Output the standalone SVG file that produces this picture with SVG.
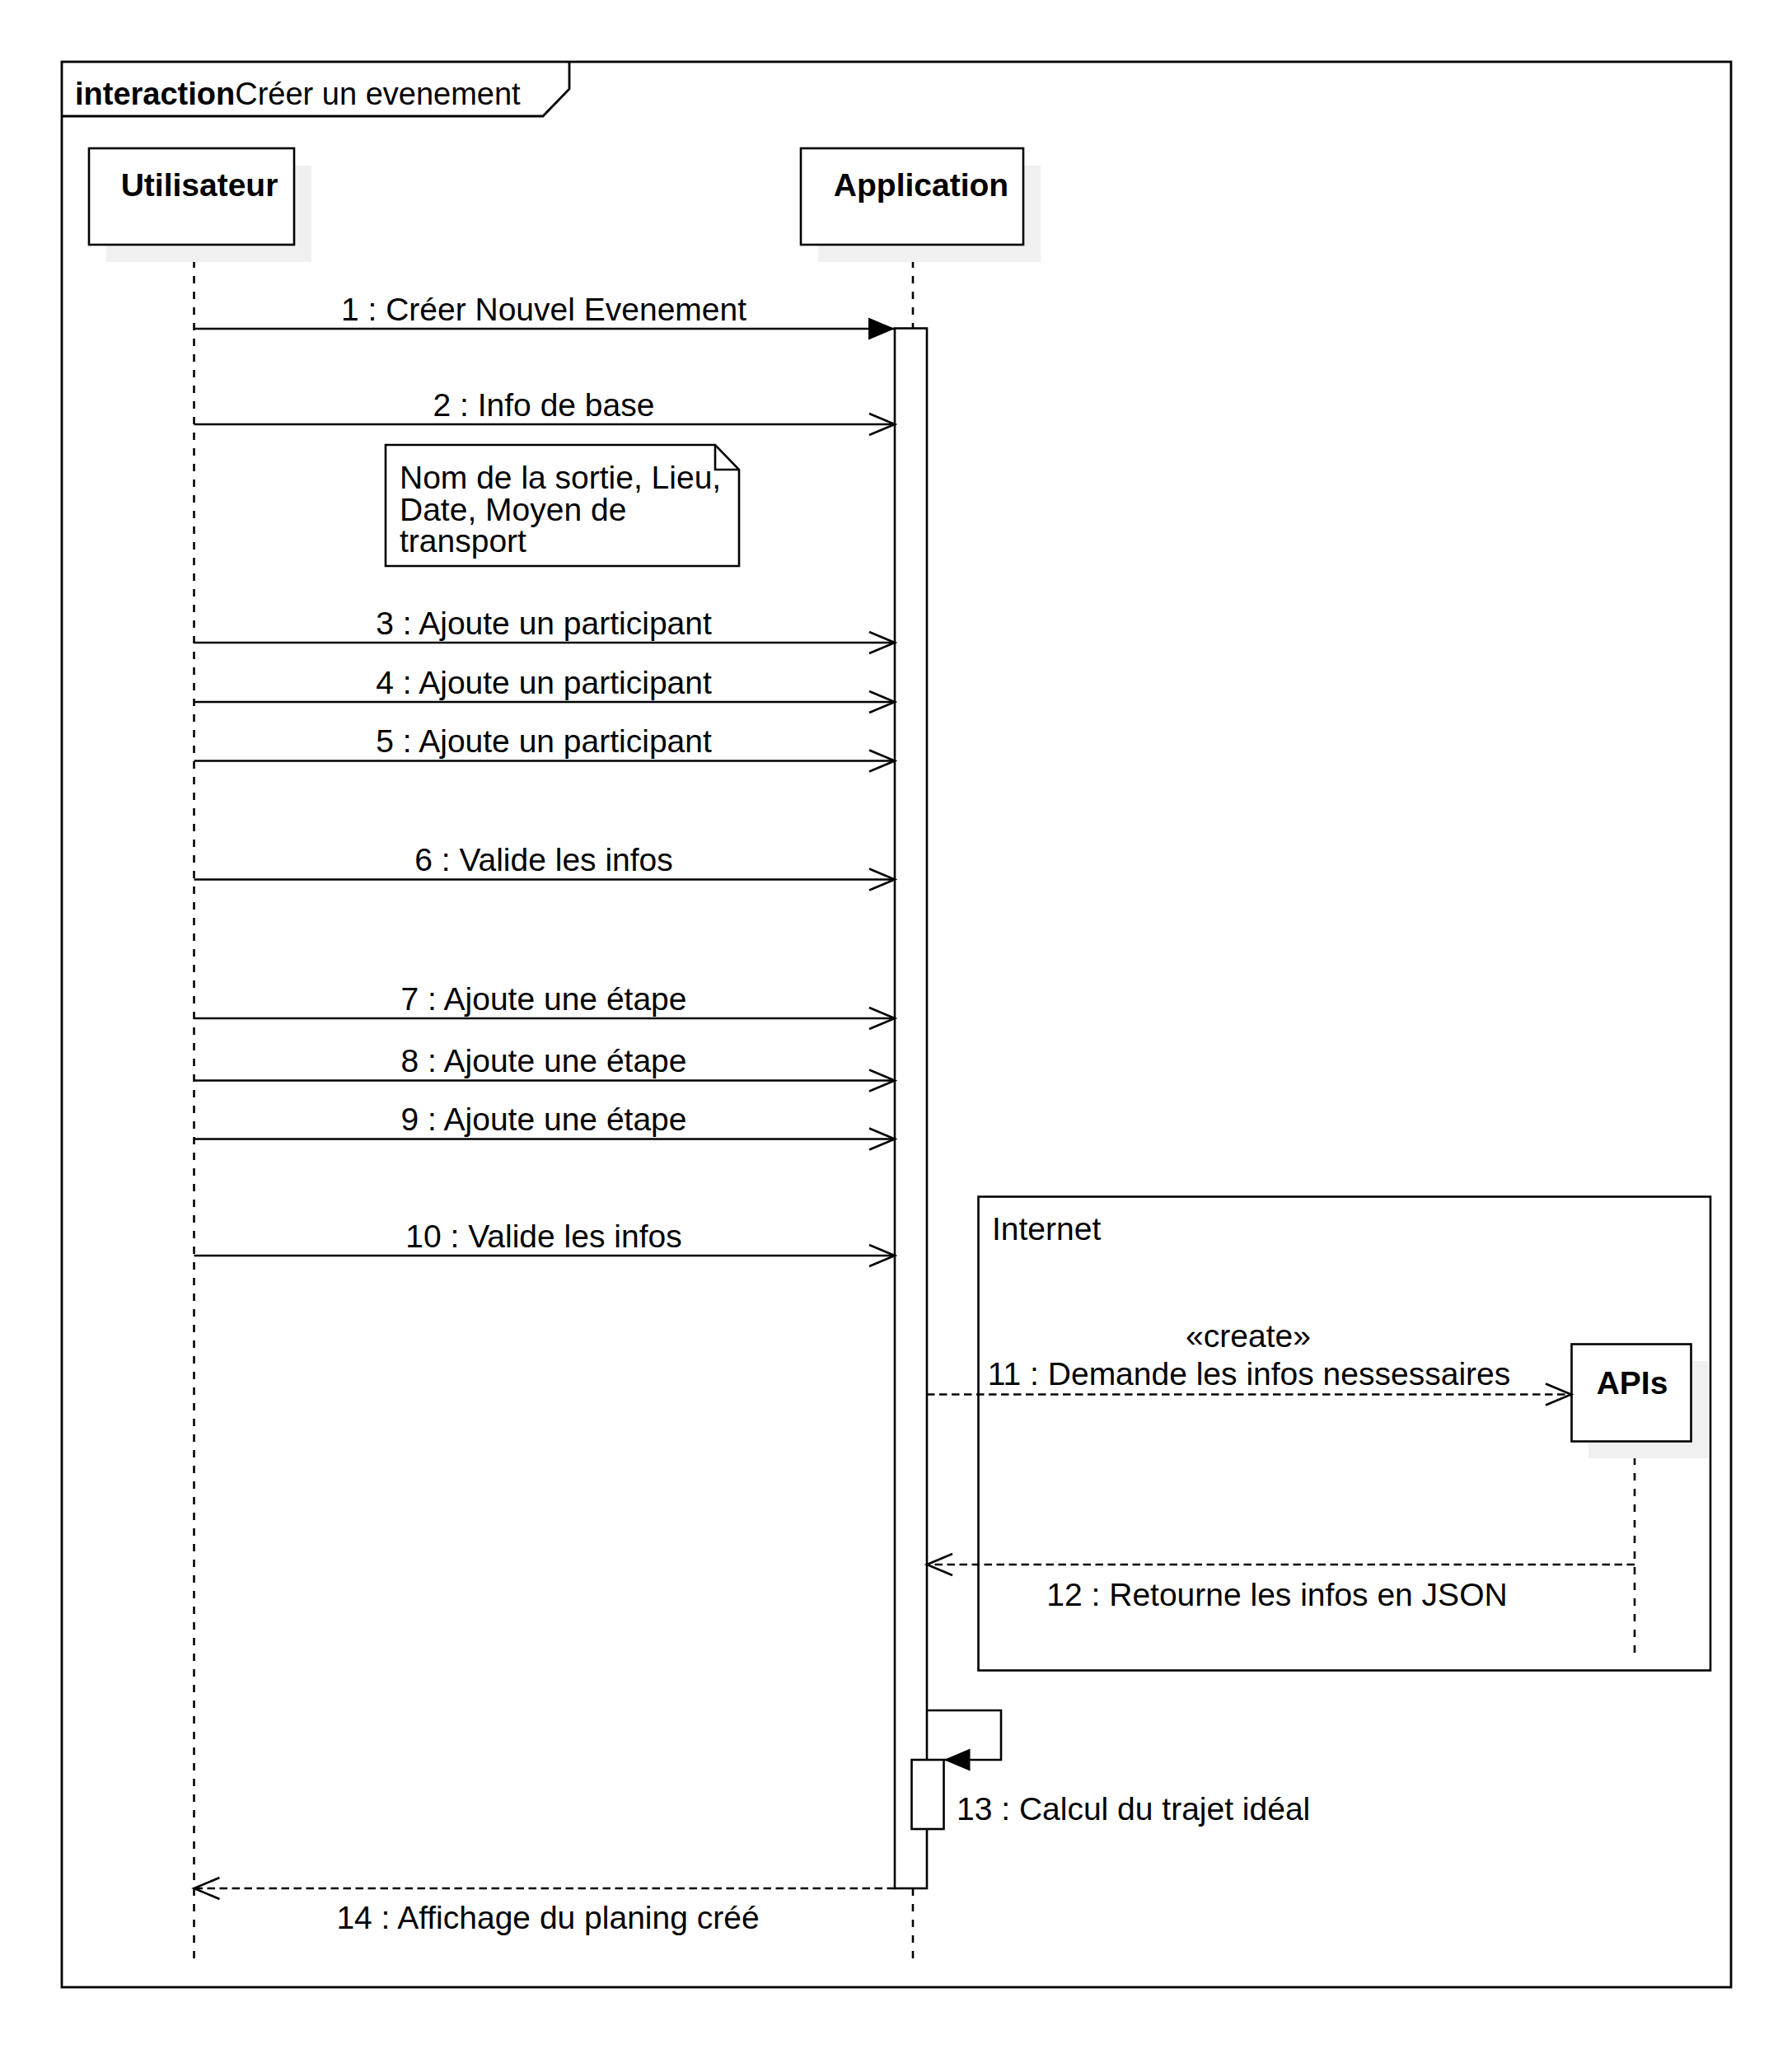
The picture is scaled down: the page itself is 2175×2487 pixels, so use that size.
<svg xmlns="http://www.w3.org/2000/svg" width="2175" height="2487" viewBox="0 0 2175 2487">
<style>
.bg{fill:#fff}
.box{fill:#fff;stroke:#000;stroke-width:2.6}
.frm{fill:none;stroke:#000;stroke-width:2.8}
.shadow{fill:#f0f0f0}
.life{stroke:#000;stroke-width:2.6;stroke-dasharray:9 10;fill:none}
.msg{stroke:#000;stroke-width:2.6;fill:none}
.dash{stroke-dasharray:9.5 5.5}
.t{font-family:"Liberation Sans",Arial,sans-serif;font-size:39px;fill:#000}
.ti{font-size:38px}
.b{font-weight:bold}
.m{text-anchor:middle}
</style>
<defs>
<marker id="open" viewBox="-36 -16 40 32" refX="0" refY="0" markerWidth="40" markerHeight="32" orient="auto" markerUnits="userSpaceOnUse">
<path d="M-31,-13 L0,0 L-31,13" fill="none" stroke="#000" stroke-width="2.6"/>
</marker>
<marker id="filled" viewBox="-36 -16 40 32" refX="0" refY="0" markerWidth="40" markerHeight="32" orient="auto" markerUnits="userSpaceOnUse">
<path d="M-32,-13.5 L0,0 L-32,13.5 Z" fill="#000"/>
</marker>
</defs>
<rect class="bg" x="0" y="0" width="2175" height="2487"/>

<g id="frame">
<rect class="frm" x="75" y="75" width="2026" height="2337"/>
<path class="frm" d="M75,141 H659 L691,108 V75"/>
<text class="t ti" x="91" y="127"><tspan class="b">interaction</tspan>Créer un evenement</text>
</g>

<g id="lifelines">
<line class="life" x1="235.5" y1="297" x2="235.5" y2="2378"/>
<line class="life" x1="1108" y1="297" x2="1108" y2="2378"/>
<line class="life" x1="1984" y1="1750" x2="1984" y2="2007"/>
</g>

<g id="node-utilisateur">
<rect class="shadow" x="129" y="201" width="249" height="117"/>
<rect class="box" x="108" y="180" width="249" height="117"/>
<text class="t b m" x="242" y="238">Utilisateur</text>
</g>

<g id="node-application">
<rect class="shadow" x="993" y="201" width="270" height="117"/>
<rect class="box" x="972" y="180" width="270" height="117"/>
<text class="t b m" x="1118" y="238">Application</text>
</g>

<g id="activation-application">
<rect class="box" x="1086" y="398.5" width="39" height="1893.5"/>
<rect class="box" x="1106.5" y="2136" width="39" height="84"/>
</g>

<g id="note">
<path class="box" d="M468,540 H868 L897,570 V687 H468 Z"/>
<path class="box" d="M868,540 V570 H897" style="fill:none"/>
<text class="t" x="485" y="593">Nom de la sortie, Lieu,</text>
<text class="t" x="485" y="631.5">Date, Moyen de</text>
<text class="t" x="485" y="670">transport</text>
</g>

<g id="fragment-internet">
<rect class="box" x="1187.5" y="1452.5" width="888.5" height="575" style="fill:none"/>
<text class="t" x="1204" y="1505">Internet</text>
</g>

<g id="node-apis">
<rect class="shadow" x="1928" y="1652" width="145" height="118"/>
<rect class="box" x="1907.5" y="1631.5" width="145" height="118"/>
<text class="t b m" x="1981" y="1692">APIs</text>
</g>

<g id="connectors">
<path class="msg" d="M235.5,399 H1086" marker-end="url(#filled)"/>
<path class="msg" d="M235.5,515 H1086" marker-end="url(#open)"/>
<path class="msg" d="M235.5,780 H1086" marker-end="url(#open)"/>
<path class="msg" d="M235.5,852 H1086" marker-end="url(#open)"/>
<path class="msg" d="M235.5,923.5 H1086" marker-end="url(#open)"/>
<path class="msg" d="M235.5,1067.5 H1086" marker-end="url(#open)"/>
<path class="msg" d="M235.5,1236 H1086" marker-end="url(#open)"/>
<path class="msg" d="M235.5,1311.5 H1086" marker-end="url(#open)"/>
<path class="msg" d="M235.5,1382.5 H1086" marker-end="url(#open)"/>
<path class="msg" d="M235.5,1524 H1086" marker-end="url(#open)"/>
<path class="msg dash" d="M1125,1692.5 H1907" marker-end="url(#open)"/>
<path class="msg dash" d="M1984,1899 H1125" marker-end="url(#open)"/>
<path class="msg" d="M1125,2076 H1215 V2136 H1145.5" marker-end="url(#filled)"/>
<path class="msg dash" d="M1086,2292 H235.5" marker-end="url(#open)"/>

<text class="t m" x="660" y="388.5">1 : Créer Nouvel Evenement</text>
<text class="t m" x="660" y="504.5">2 : Info de base</text>
<text class="t m" x="660" y="769.5">3 : Ajoute un participant</text>
<text class="t m" x="660" y="841.5">4 : Ajoute un participant</text>
<text class="t m" x="660" y="913">5 : Ajoute un participant</text>
<text class="t m" x="660" y="1057">6 : Valide les infos</text>
<text class="t m" x="660" y="1225.5">7 : Ajoute une étape</text>
<text class="t m" x="660" y="1301">8 : Ajoute une étape</text>
<text class="t m" x="660" y="1372">9 : Ajoute une étape</text>
<text class="t m" x="660" y="1513.5">10 : Valide les infos</text>
<text class="t m" x="1515" y="1635">«create»</text>
<text class="t m" x="1516" y="1680.5">11 : Demande les infos nessessaires</text>
<text class="t m" x="1550" y="1948.5">12 : Retourne les infos en JSON</text>
<text class="t" x="1161" y="2209">13 : Calcul du trajet idéal</text>
<text class="t m" x="665" y="2340.5">14 : Affichage du planing créé</text>
</g>
</svg>
